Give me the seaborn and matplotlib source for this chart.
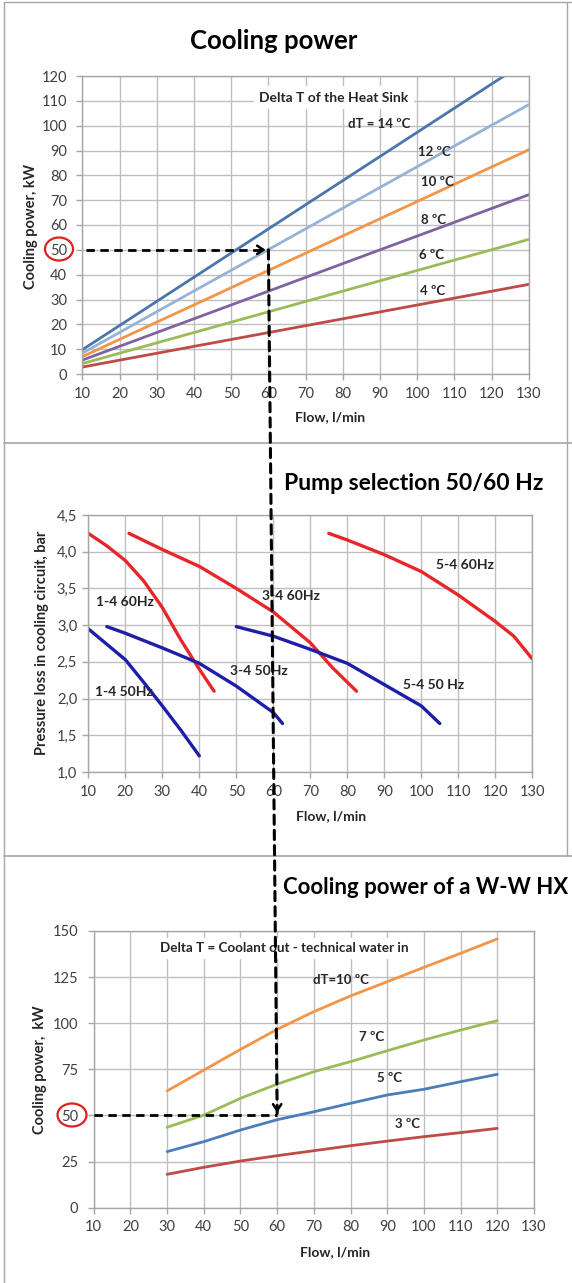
import pandas as pd
import seaborn as sns
import matplotlib.pyplot as plt
from matplotlib.patches import Ellipse, ConnectionPatch
from matplotlib.lines import Line2D
from matplotlib.ticker import FuncFormatter

# ---- panel 1: cooling power of the heat sink (straight lines, read at both ends)
sink_flow = [10, 130]
sink_dt = ["14", "12", "10", "8", "6", "4"]
sink_power = {
    "14": [9.8, 126.5],
    "12": [8.4, 108.5],
    "10": [7.0, 90.3],
    "8": [5.6, 72.2],
    "6": [4.2, 54.2],
    "4": [2.8, 36.1],
}
sink_labels = ["dT = 14 ºC", "12 ºC", "10 ºC", "8 ºC", "6 ºC", "4 ºC"]
sink_label_pos = [(89.7, 100.7), (104.5, 89.5), (105.3, 77.4), (104.3, 62.0), (103.8, 47.9), (104.1, 33.5)]

# ---- panel 2: pump curves
pump_names = ["1-4 60Hz", "3-4 60Hz", "5-4 60Hz", "1-4 50Hz", "3-4 50Hz", "5-4 50Hz"]
pump_flow = {
    "1-4 60Hz": [10, 15, 20, 25, 30, 35, 40, 44],
    "3-4 60Hz": [21, 30, 40, 50, 60, 70, 76, 82.5],
    "5-4 60Hz": [75, 80, 90, 100, 110, 120, 125, 130],
    "1-4 50Hz": [10, 20, 25, 30, 35, 40],
    "3-4 50Hz": [15, 20, 30, 40, 50, 60, 62.5],
    "5-4 50Hz": [50, 60, 70, 80, 90, 100, 105],
}
pump_dp = {
    "1-4 60Hz": [4.25, 4.08, 3.88, 3.60, 3.24, 2.80, 2.40, 2.10],
    "3-4 60Hz": [4.25, 4.03, 3.80, 3.50, 3.18, 2.76, 2.42, 2.10],
    "5-4 60Hz": [4.25, 4.16, 3.96, 3.73, 3.41, 3.05, 2.85, 2.54],
    "1-4 50Hz": [2.95, 2.53, 2.22, 1.90, 1.57, 1.22],
    "3-4 50Hz": [2.98, 2.89, 2.69, 2.48, 2.17, 1.81, 1.66],
    "5-4 50Hz": [2.98, 2.85, 2.67, 2.48, 2.19, 1.90, 1.66],
}
pump_labels = ["1-4 60Hz", "3-4 60Hz", "5-4 60Hz", "1-4 50Hz", "3-4 50Hz", "5-4 50 Hz"]
pump_label_pos = [(19.9, 3.32), (64.7, 3.40), (111.8, 3.82), (19.5, 2.09), (56.0, 2.37), (103.4, 2.19)]

# ---- panel 3: W-W heat exchanger
hx_flow = [30, 40, 50, 60, 70, 80, 90, 100, 110, 120]
hx_dt = ["10", "7", "5", "3"]
hx_power = {
    "10": [63.3, 74.6, 85.8, 96.7, 106.3, 114.8, 122.5, 130.3, 137.9, 145.7],
    "7": [43.6, 50.2, 59.3, 67.0, 73.7, 79.2, 85.1, 90.9, 96.3, 101.4],
    "5": [30.4, 35.8, 42.1, 47.7, 52.0, 56.6, 61.1, 64.2, 68.3, 72.3],
    "3": [18.1, 21.9, 25.3, 28.2, 30.9, 33.6, 36.1, 38.5, 40.7, 43.0],
}
hx_labels = ["dT=10 ºC", "7 ºC", "5 ºC", "3 ºC"]
hx_label_pos = [(77.5, 123.4), (85.6, 92.7), (90.7, 70.1), (95.5, 45.4)]

# selected operating point
sel_flow = 60
sel_power = 50

sns.set_style("white")
plt.rcParams['font.family'] = ['Lato', 'DejaVu Sans']

W, H = 572, 1283
fig = plt.figure(figsize=(W / 100, H / 100), dpi=100)


def box(left, top, right, bottom):
    return [left / W, 1 - bottom / H, (right - left) / W, (bottom - top) / H]


def style(ax, ylim, yticks, ypad):
    ax.set_xlim(10, 130)
    ax.set_xticks(range(10, 131, 10))
    ax.set_ylim(*ylim)
    ax.set_yticks(yticks)
    ax.grid(True, color="#BFBFBF", lw=1)
    ax.set_axisbelow(True)
    for s in ax.spines.values():
        s.set_color("#A6A6A6")
        s.set_linewidth(1)
    ax.tick_params(axis="both", direction="out", length=4, width=1, color="#A6A6A6",
                   labelsize=10.5, labelcolor="#404040", left=True, bottom=True)
    ax.tick_params(axis="x", pad=5)
    ax.tick_params(axis="y", pad=ypad)


def labels(ax, xl, yl, ylabel):
    # positions given in figure pixels
    fig.text(xl[0] / W, 1 - xl[1] / H, "Flow, l/min", ha="center", va="center",
             fontsize=10, fontweight="bold", color="#262626")
    fig.text(yl[0] / W, 1 - yl[1] / H, ylabel, ha="center", va="center", rotation=90,
             fontsize=10.5, fontweight="bold", color="#262626")


# ---------- panel 1
ax1 = fig.add_axes(box(82.4, 76, 528.8, 374))
df1 = pd.DataFrame([(f, p, dt) for dt in sink_dt for f, p in zip(sink_flow, sink_power[dt])],
                   columns=["flow", "power", "dT"])
pal1 = {"14": "#4A76AC", "12": "#95B3D7", "10": "#F39546", "8": "#7F63A1", "6": "#9BBB59", "4": "#BE4B48"}
sns.lineplot(data=df1, x="flow", y="power", hue="dT", palette=pal1, legend=False,
             estimator=None, sort=False, lw=2, ax=ax1)
style(ax1, (0, 120), range(0, 121, 10), 7)
ax1.set_xlabel("")
ax1.set_ylabel("")
ax1.text(77.6, 111.3, "Delta T of the Heat Sink", ha="center", va="center", fontsize=10,
         fontweight="bold", color="#262626",
         bbox=dict(boxstyle="square,pad=0.4", fc="white", ec="none"))
for t, (x, y) in zip(sink_labels, sink_label_pos):
    ax1.text(x, y, t, ha="center", va="center", fontsize=9.5, fontweight="bold", color="#262626")
labels(ax1, (330, 417), (31, 226), "Cooling power, kW")
fig.text(274 / W, 1 - 41 / H, "Cooling power", ha="center", va="center",
         fontsize=18.5, fontweight="bold", color="black")

# ---------- panel 2
ax2 = fig.add_axes(box(88.3, 515, 532.3, 772))
rows = []
for n in pump_names:
    for f, p in zip(pump_flow[n], pump_dp[n]):
        rows.append((f, p, n))
df2 = pd.DataFrame(rows, columns=["flow", "dp", "pump"])
pal2 = {n: ("#E8262A" if "60" in n else "#1E1EA8") for n in pump_names}
sns.lineplot(data=df2, x="flow", y="dp", hue="pump", palette=pal2, legend=False,
             estimator=None, sort=False, lw=2.4, ax=ax2)
style(ax2, (1.0, 4.5), [1.0, 1.5, 2.0, 2.5, 3.0, 3.5, 4.0, 4.5], 4)
ax2.yaxis.set_major_formatter(FuncFormatter(lambda v, _: f"{v:.1f}".replace(".", ",")))
ax2.set_xlabel("")
ax2.set_ylabel("")
for t, (x, y) in zip(pump_labels, pump_label_pos):
    ax2.text(x, y, t, ha="center", va="center", fontsize=10, fontweight="bold", color="#262626")
labels(ax2, (331, 816), (42, 643), "Pressure loss in cooling circuit, bar")
fig.text(284 / W, 1 - 483 / H, "Pump selection 50/60 Hz", ha="left", va="center",
         fontsize=16.5, fontweight="bold", color="black")

# ---------- panel 3
ax3 = fig.add_axes(box(93.7, 931, 534, 1207.7))
df3 = pd.DataFrame([(f, p, dt) for dt in hx_dt for f, p in zip(hx_flow, hx_power[dt])],
                   columns=["flow", "power", "dT"])
pal3 = {"10": "#F39546", "7": "#9BBB59", "5": "#4A7EBB", "3": "#BE4B48"}
sns.lineplot(data=df3, x="flow", y="power", hue="dT", palette=pal3, legend=False,
             estimator=None, sort=False, lw=2, ax=ax3)
style(ax3, (0, 150), range(0, 151, 25), 7)
ax3.set_xlabel("")
ax3.set_ylabel("")
ax3.text(61.9, 140.6, "Delta T = Coolant out - technical water in", ha="center", va="center",
         fontsize=9.7, fontweight="bold", color="#262626",
         bbox=dict(boxstyle="square,pad=0.35", fc="white", ec="none"))
for t, (x, y) in zip(hx_labels, hx_label_pos):
    ax3.text(x, y, t, ha="center", va="center", fontsize=9.5, fontweight="bold", color="#262626")
labels(ax3, (335.5, 1252), (40, 1070), "Cooling power,  kW")
fig.text(283 / W, 1 - 888 / H, "Cooling power of a W-W HX", ha="left", va="center",
         fontsize=16, fontweight="bold", color="black")

# ---------- selection path (dashed arrows)
dash = (0, (3, 2))
ax1.plot([11, sel_flow - 0.8], [sel_power, sel_power], color="black", lw=2, ls=dash, zorder=5)
ax1.annotate("", xy=(sel_flow, sel_power), xytext=(sel_flow - 3, sel_power),
             arrowprops=dict(arrowstyle="->,head_length=0.45,head_width=0.3", lw=1.8, color="black"),
             zorder=6)
ax3.plot([10, sel_flow], [sel_power, sel_power], color="black", lw=2, ls=dash, zorder=5)
con = ConnectionPatch(xyA=(sel_flow, sel_power), coordsA=ax1.transData,
                      xyB=(sel_flow, sel_power + 1), coordsB=ax3.transData,
                      color="black", lw=2.2, ls=dash, zorder=10)
fig.add_artist(con)
ax3.annotate("", xy=(sel_flow, sel_power), xytext=(sel_flow, sel_power + 5),
             arrowprops=dict(arrowstyle="->,head_length=0.45,head_width=0.3", lw=1.8, color="black"),
             zorder=6)

# red circles around the 50 kW tick labels
fig.add_artist(Ellipse((59 / W, 1 - 249 / H), 28 / W, 23 / H, transform=fig.transFigure,
                       fill=False, ec="#E02020", lw=1.6))
fig.add_artist(Ellipse((72 / W, 1 - 1115 / H), 29 / W, 23 / H, transform=fig.transFigure,
                       fill=False, ec="#E02020", lw=1.6))

# page / table borders
bc = "#A6A6A6"
fig.add_artist(Line2D([4 / W, 4 / W], [0, 1 - 2 / H], color=bc, lw=1, transform=fig.transFigure))
fig.add_artist(Line2D([4 / W, 1], [1 - 2 / H, 1 - 2 / H], color=bc, lw=1, transform=fig.transFigure))
fig.add_artist(Line2D([567 / W, 567 / W], [1 - 856 / H, 1 - 2 / H], color=bc, lw=1, transform=fig.transFigure))
for yy in (442.7, 855.7):
    fig.add_artist(Line2D([4 / W, 1], [1 - yy / H, 1 - yy / H], color=bc, lw=1.2,
                          transform=fig.transFigure))

fig.savefig("out.png", dpi=100)
